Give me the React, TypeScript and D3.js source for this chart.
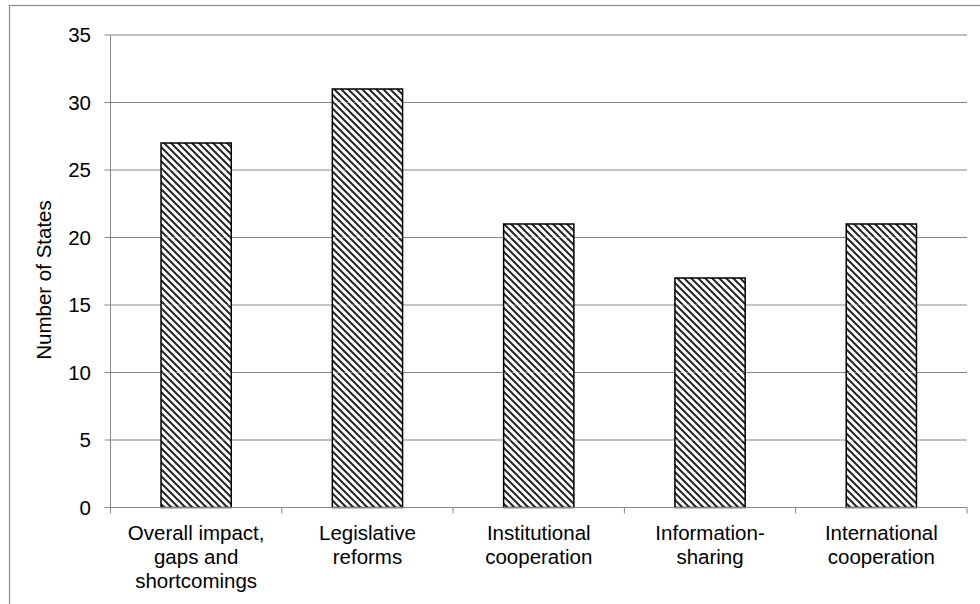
import React from "react";
import * as d3 from "d3";

const categories: string[][] = [
  ["Overall impact,", "gaps and", "shortcomings"],
  ["Legislative", "reforms"],
  ["Institutional", "cooperation"],
  ["Information-", "sharing"],
  ["International", "cooperation"],
];
const values: number[] = [27, 31, 21, 17, 21];
const yTicks: number[] = [0, 5, 10, 15, 20, 25, 30, 35];
const yTitle = "Number of States";

const W = 980;
const H = 604;
const plot = { left: 110.5, right: 967, top: 35, bottom: 507.5 };
const FONT = "'Liberation Sans', Arial, sans-serif";
const GRID = "#868686";
const FS = 20.5;

export default function App() {
  const keys = categories.map((_, i) => String(i));
  const x = d3
    .scaleBand<string>()
    .domain(keys)
    .range([plot.left, plot.right])
    .paddingInner(0.59)
    .paddingOuter(0.295);
  const band = d3.scaleBand<string>().domain(keys).range([plot.left, plot.right]);
  const y = d3.scaleLinear().domain([0, 35]).range([plot.bottom, plot.top]);

  const boundaries = [...keys.map((k) => band(k) as number), plot.right];

  return (
    <svg
      width={W}
      height={H}
      style={{ position: "absolute", left: 0, top: 0, background: "#fff" }}
      fontFamily={FONT}
    >
      <defs>
        <pattern id="hatch" width={7} height={7} patternUnits="userSpaceOnUse">
          <rect width={7} height={7} fill="#fff" />
          <path
            d="M0,0 L7,7 M-1,6 L1,8 M6,-1 L8,1"
            stroke="#262626"
            strokeWidth={2}
          />
        </pattern>
      </defs>

      {/* outer chart frame */}
      <rect x={9.5} y={5.5} width={990} height={620} fill="none" stroke="#8c8c8c" strokeWidth={1.2} />

      {/* horizontal gridlines and y ticks */}
      {yTicks.map((t) => (
        <g key={t}>
          {t > 0 && (
            <line x1={plot.left} x2={plot.right} y1={y(t)} y2={y(t)} stroke={GRID} strokeWidth={1} />
          )}
          <line x1={plot.left - 6} x2={plot.left} y1={y(t)} y2={y(t)} stroke={GRID} strokeWidth={1} />
          <text x={91} y={y(t)} dy="0.36em" textAnchor="end" fontSize={FS} fill="#000">
            {t}
          </text>
        </g>
      ))}

      {/* bars */}
      {values.map((v, i) => (
        <g key={i}>
          <rect
            x={x(String(i))}
            y={y(v)}
            width={x.bandwidth()}
            height={y(0) - y(v)}
            fill="url(#hatch)"
            stroke="#000"
            strokeWidth={1.5}
          />
          {/* faint seams where gridlines cross the hatch */}
          {yTicks
            .filter((t) => t > 0 && t < v)
            .map((t) => (
              <line
                key={t}
                x1={(x(String(i)) as number) + 1}
                x2={(x(String(i)) as number) + x.bandwidth() - 1}
                y1={y(t)}
                y2={y(t)}
                stroke="#fff"
                strokeOpacity={0.35}
                strokeWidth={1}
              />
            ))}
        </g>
      ))}

      {/* axes */}
      <line x1={plot.left} x2={plot.left} y1={plot.top} y2={plot.bottom} stroke={GRID} strokeWidth={1} />
      <line x1={plot.left} x2={plot.right} y1={plot.bottom} y2={plot.bottom} stroke={GRID} strokeWidth={1} />
      {boundaries.map((bx, i) => (
        <line key={i} x1={bx} x2={bx} y1={plot.bottom} y2={plot.bottom + 6} stroke={GRID} strokeWidth={1} />
      ))}

      {/* category labels */}
      {categories.map((lines, i) => {
        const cx = (band(String(i)) as number) + band.bandwidth() / 2;
        return (
          <text key={i} textAnchor="middle" fontSize={FS} fill="#000">
            {lines.map((ln, j) => (
              <tspan key={j} x={cx} y={540 + j * 24}>
                {ln}
              </tspan>
            ))}
          </text>
        );
      })}

      {/* y-axis title */}
      <text
        transform={`translate(51,280) rotate(-90)`}
        textAnchor="middle"
        fontSize={FS}
        fill="#000"
      >
        {yTitle}
      </text>
    </svg>
  );
}
